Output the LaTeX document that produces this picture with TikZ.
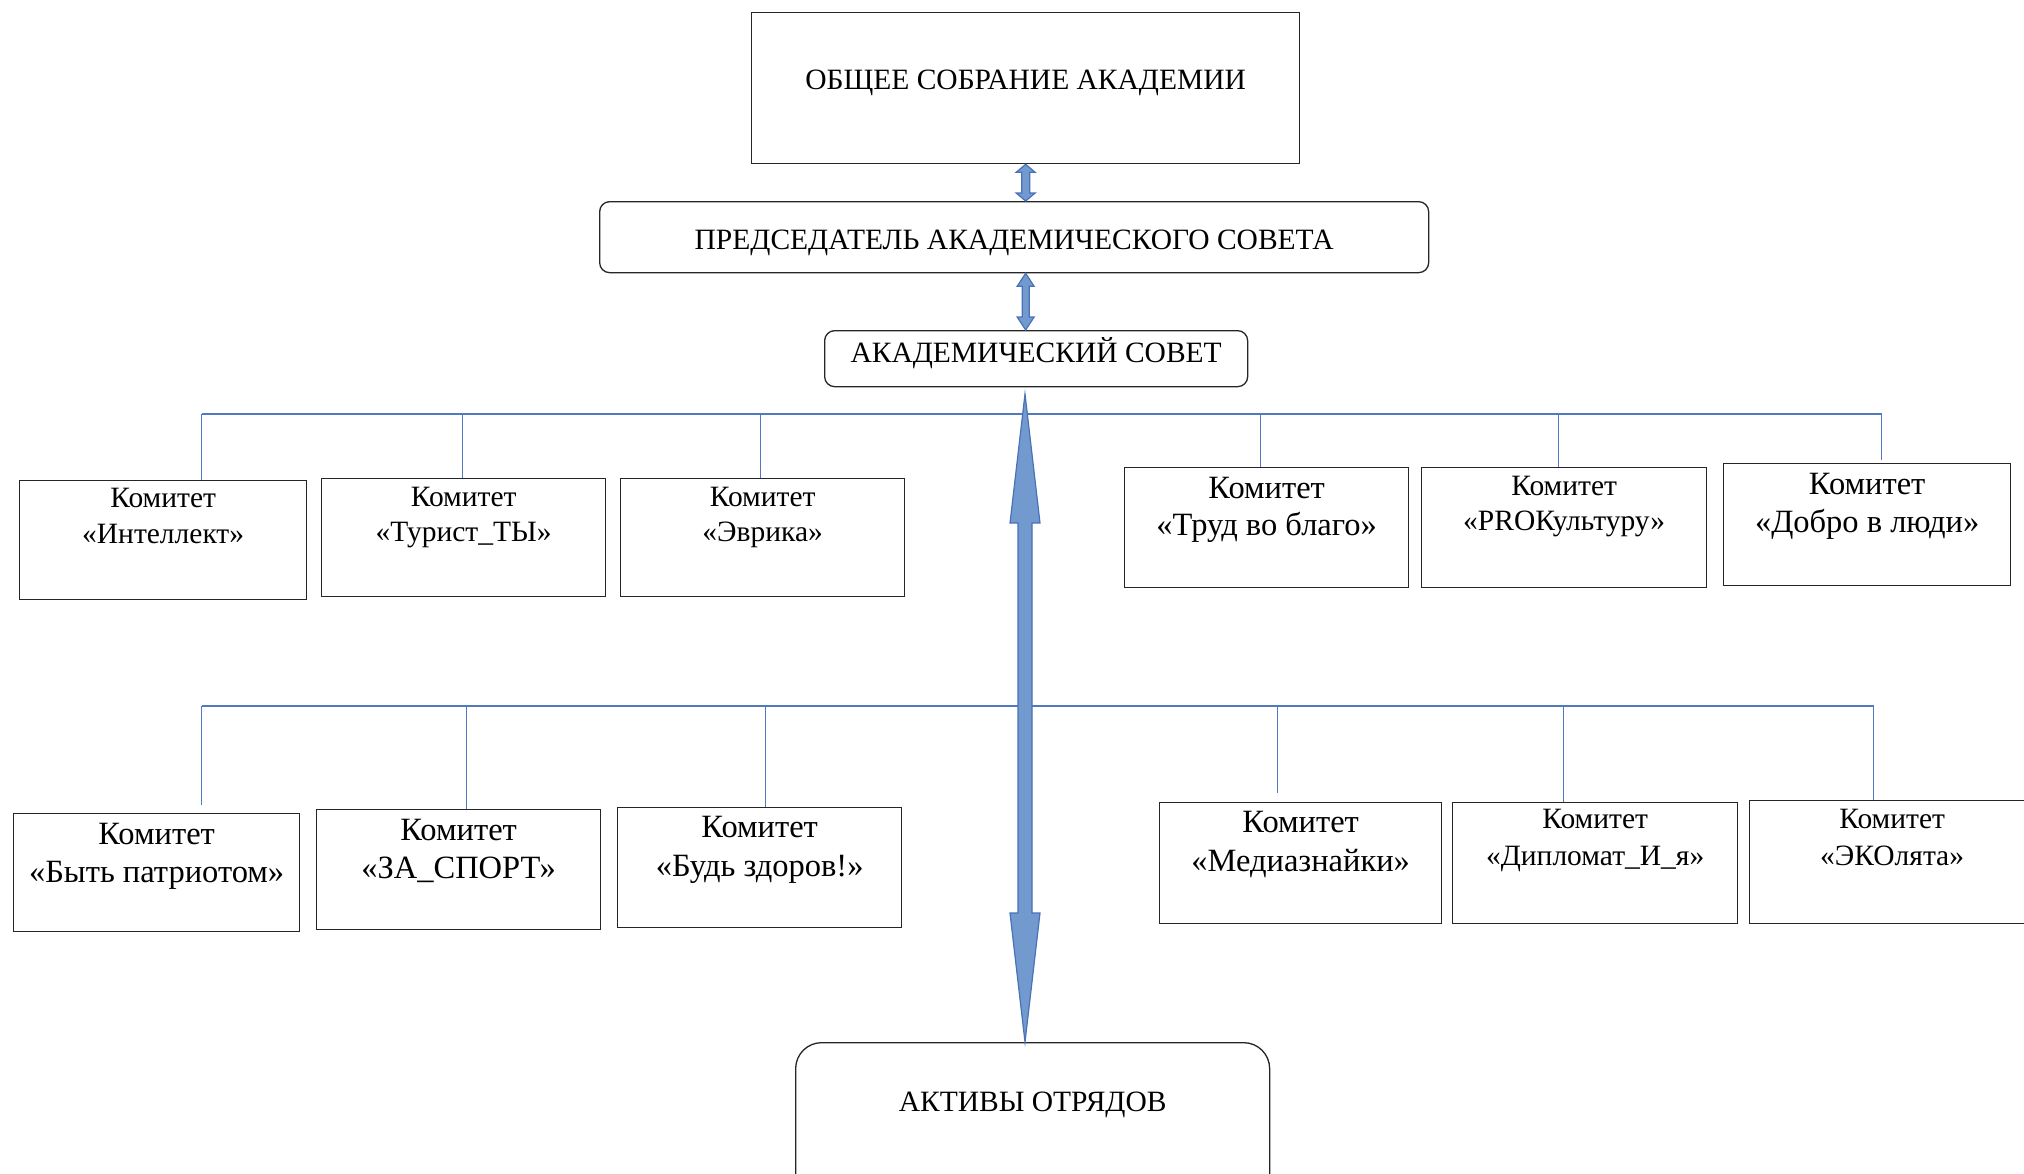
\documentclass[tikz,border=0pt]{standalone}
\usepackage{fontspec}
\setmainfont{Liberation Serif}
\usetikzlibrary{calc}
\definecolor{linkblue}{HTML}{5079C0}
\definecolor{arrfill}{HTML}{729ACF}
\definecolor{arrline}{HTML}{4A72B8}
\newcommand\bxt[6]{\parbox[t][#2pt][t]{#1pt}{\centering\fontsize{#4pt}{#5pt}\selectfont\vspace*{#3pt}#6\par}}
\newcommand\dblarrow[5]{%
  \draw[barrow] (#1) -- ++(#4,#3) -- ++(-#4+#5,0) -- ($(#2)+(#5,-#3)$) -- ++(#4-#5,0) -- (#2)
    -- ++(-#4,-#3) -- ++(#4-#5,0) -- ($(#1)+(-#5,#3)$) -- ++(-#4+#5,0) -- cycle;}
\begin{document}
\begin{tikzpicture}[x=1pt,y=-1pt,
  cbox/.style={draw=black!85,line width=1.3pt,inner sep=0pt,anchor=north west},
  rbox/.style={cbox,rounded corners=10pt},
  conn/.style={draw=linkblue,line width=1.4pt},
  barrow/.style={fill=arrfill,draw=arrline,line width=1.2pt,line join=miter}]
\useasboundingbox[fill=white] (0,0) rectangle (2024,1173);

% top blocks
\node[cbox] (gen) at (751,12) {\bxt{548}{151}{57.3}{29.5}{35}{ОБЩЕЕ СОБРАНИЕ АКАДЕМИИ}};
\node[rbox] (chair) at (599,201) {\bxt{829}{71}{28.3}{29.5}{35}{ПРЕДСЕДАТЕЛЬ АКАДЕМИЧЕСКОГО СОВЕТА}};
\node[rbox] (council) at (824,330) {\bxt{423}{56}{7.3}{29.5}{35}{АКАДЕМИЧЕСКИЙ СОВЕТ}};
\node[rbox,rounded corners=26pt] (aktiv) at (795,1042) {\bxt{474}{170}{49.5}{29.5}{35}{АКТИВЫ ОТРЯДОВ}};

% upper committees
\node[cbox] (k1) at (19,480) {\bxt{287}{119}{7.3}{29.5}{36}{Комитет\\«Интеллект»}};
\node[cbox] (k2) at (321,478) {\bxt{284}{118}{8.3}{29.5}{35}{Комитет\\«Турист\_ТЫ»}};
\node[cbox] (k3) at (620,478) {\bxt{284}{118}{8.3}{29.5}{35}{Комитет\\«Эврика»}};
\node[cbox] (k4) at (1124,467) {\bxt{284}{120}{9.3}{32.5}{37}{Комитет\\«Труд во благо»}};
\node[cbox] (k5) at (1421,467) {\bxt{285}{120}{8.3}{29.5}{35}{Комитет\\«PROКультуру»}};
\node[cbox] (k6) at (1723,463) {\bxt{287}{122}{9.3}{32.5}{38}{Комитет\\«Добро в люди»}};

% lower committees
\node[cbox] (b1) at (13,813) {\bxt{286}{118}{9.3}{32.5}{38}{Комитет\\«Быть патриотом»}};
\node[cbox] (b2) at (316,809) {\bxt{284}{120}{9.3}{32.5}{38}{Комитет\\«ЗА\_СПОРТ»}};
\node[cbox] (b3) at (617,807) {\bxt{284}{120}{8.3}{32.5}{39}{Комитет\\«Будь здоров!»}};
\node[cbox] (b4) at (1159,802) {\bxt{282}{121}{8.3}{32.5}{39}{Комитет\\«Медиазнайки»}};
\node[cbox] (b5) at (1452,802) {\bxt{285}{121}{6.3}{29.5}{37}{Комитет\\«Дипломат\_И\_я»}};
\node[cbox] (b6) at (1749,800) {\bxt{285}{123}{8.3}{29.5}{37}{Комитет\\«ЭКОлята»}};

% bus lines
\coordinate (tb) at (1025,414);
\coordinate (bb) at (1025,706);
\foreach \n/\dx/\sh in {k1/38.5/0,k2/-1/0,k3/-2/0,k4/-6/0,k5/-5.5/0,k6/14.5/3}
  \draw[conn,shorten <=\sh pt] ([xshift=\dx pt]\n.north) -- ([xshift=\dx pt]\n.north |- tb);
\draw[conn] ([xshift=38.5pt]k1.north |- tb) -- ([xshift=14.5pt]k6.north |- tb);
\foreach \n/\dx/\sh in {b1/45/8,b2/8/0,b3/6/0,b4/-23/9,b5/-31.5/0,b6/-18.5/0}
  \draw[conn,shorten <=\sh pt] ([xshift=\dx pt]\n.north) -- ([xshift=\dx pt]\n.north |- bb);
\draw[conn] ([xshift=45pt]b1.north |- bb) -- ([xshift=-18.5pt]b6.north |- bb);

% arrows
\coordinate (a1t) at (gen.south);
\coordinate (a1b) at (chair.north -| gen.south);
\dblarrow{a1t}{a1b}{8}{9.5}{4}
\coordinate (a2t) at (chair.south -| gen.south);
\coordinate (a2b) at (council.north -| gen.south);
\dblarrow{a2t}{a2b}{13}{8.5}{3.5}
\coordinate (a3t) at (1025,394);
\coordinate (a3b) at (aktiv.north -| a3t);
\dblarrow{a3t}{a3b}{129}{15}{7}
\end{tikzpicture}
\end{document}
